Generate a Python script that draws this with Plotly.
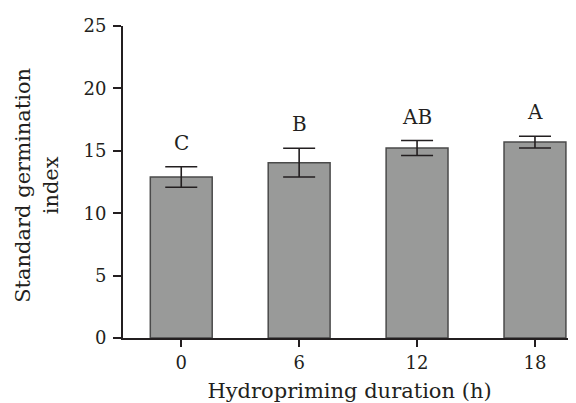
import plotly.graph_objects as go

categories = ["0", "6", "12", "18"]
values = [12.9, 14.05, 15.22, 15.7]
errors = [0.82, 1.15, 0.6, 0.47]
letters = ["C", "B", "AB", "A"]
y_ticks = [0, 5, 10, 15, 20, 25]

FONT = "DejaVu Serif"
TXT = "#231f20"
FS = 18
FT = 21

fig = go.Figure()
fig.add_trace(go.Bar(
    x=categories, y=values, width=0.525,
    marker=dict(color="#999a99", line=dict(color="#4a4a4a", width=1.5)),
    error_y=dict(type="data", array=errors, visible=True, color="#231f20",
                 thickness=1.6, width=16),
    showlegend=False,
))

for i, (v, e, l) in enumerate(zip(values, errors, letters)):
    fig.add_annotation(x=i, y=v + e, text=l, showarrow=False, yanchor="middle",
                       yshift=24, font=dict(family=FONT, size=20, color=TXT))

fig.add_annotation(text="Standard germination", xref="paper", yref="paper",
                   x=-0.220, y=0.489, textangle=-90, showarrow=False,
                   xanchor="center", yanchor="middle",
                   font=dict(family=FONT, size=FT, color=TXT))
fig.add_annotation(text="index", xref="paper", yref="paper",
                   x=-0.157, y=0.489, textangle=-90, showarrow=False,
                   xanchor="center", yanchor="middle",
                   font=dict(family=FONT, size=FT, color=TXT))

fig.update_layout(
    width=568, height=395,
    margin=dict(l=115, r=0, t=18, b=65, autoexpand=False),
    paper_bgcolor="white", plot_bgcolor="white",
    font=dict(family=FONT, size=FS, color=TXT),
    xaxis=dict(type="category", range=[-0.494, 3.348], showline=True,
               linecolor="#231f20", linewidth=2, ticks="outside", ticklen=7,
               tickwidth=2, tickcolor="#231f20", showgrid=False, zeroline=False,
               title=dict(text="Hydropriming duration (h)", standoff=13,
                          font=dict(family=FONT, size=FT, color=TXT))),
    yaxis=dict(range=[0, 25], tickvals=y_ticks, showline=True,
               linecolor="#231f20", linewidth=2, ticks="outside", ticklen=8,
               tickwidth=2, tickcolor="#231f20", showgrid=False, zeroline=False,
               ticklabelstandoff=3),
)

fig.write_html("out.html")
